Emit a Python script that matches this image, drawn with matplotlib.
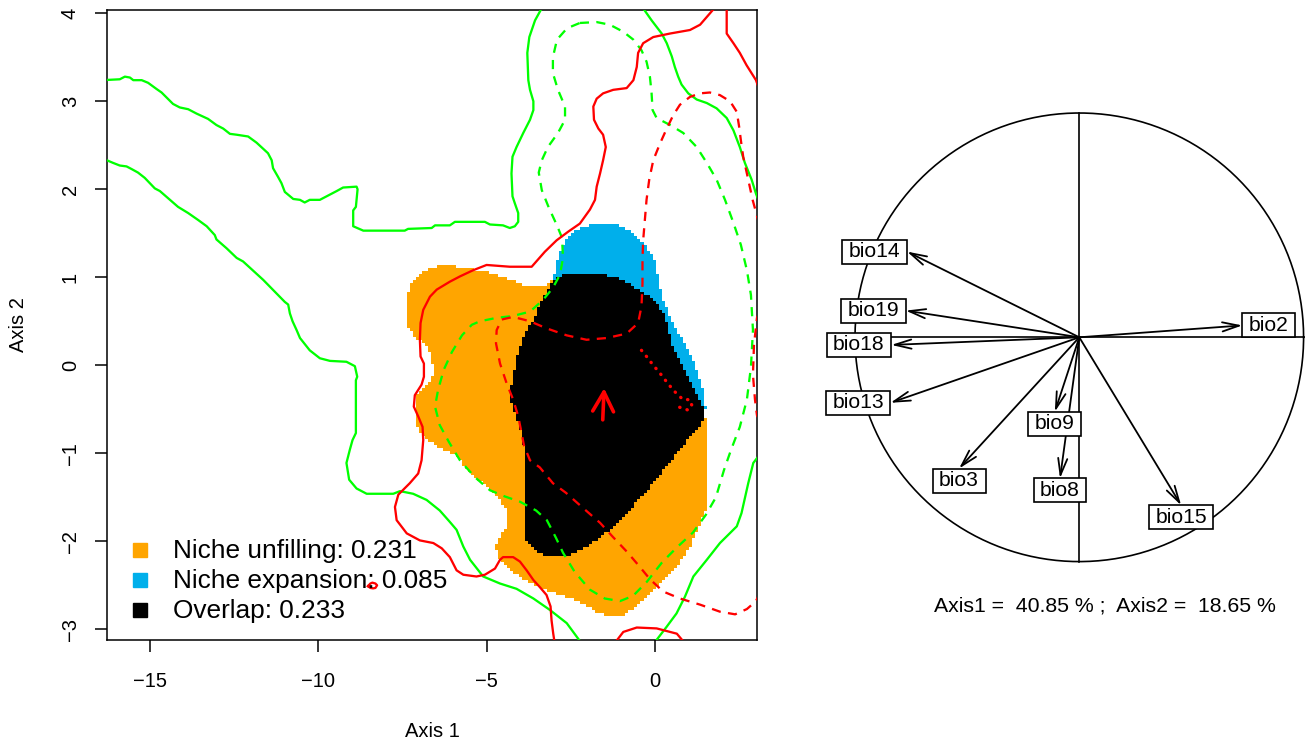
import numpy as np
import matplotlib
matplotlib.use("Agg")
import matplotlib.pyplot as plt
from matplotlib.path import Path
from matplotlib.patches import FancyArrowPatch
from matplotlib.colors import ListedColormap

plt.rcParams['font.family'] = ['Liberation Sans', 'DejaVu Sans']
plt.rcParams['axes.unicode_minus'] = True

# ------------------------------------------------------------------ data
# niche-dynamics regions (outlines in PCA space)
native_region = [(-6.68, 1.10), (-6.19, 1.14), (-5.85, 1.11), (-4.90, 1.05), (-4.46, 0.99),
                 (-4.10, 0.94), (-3.68, 0.88), (-3.27, 0.91), (-3.03, 0.97), (-1.63, 0.74),
                 (1.04, -0.39), (1.58, -0.62), (1.58, -1.42), (1.54, -1.61), (1.34, -1.80),
                 (1.04, -2.06), (0.64, -2.29), (0.25, -2.44), (-0.15, -2.59), (-0.54, -2.74),
                 (-0.94, -2.84), (-1.30, -2.84), (-1.63, -2.82), (-2.03, -2.72), (-2.62, -2.63),
                 (-3.22, -2.55), (-3.81, -2.44), (-4.31, -2.33), (-4.60, -2.21), (-4.75, -2.06),
                 (-4.60, -1.93), (-4.40, -1.83), (-4.40, -1.65), (-4.60, -1.53), (-4.99, -1.38),
                 (-5.49, -1.23), (-5.89, -1.04), (-6.39, -0.93), (-6.78, -0.85), (-7.00, -0.75),
                 (-7.13, -0.62), (-7.13, -0.45), (-7.01, -0.30), (-6.68, -0.19), (-6.56, -0.08),
                 (-6.62, 0.09), (-6.74, 0.21), (-7.10, 0.31), (-7.37, 0.45), (-7.36, 0.69),
                 (-7.30, 0.86), (-7.16, 0.97), (-6.95, 1.05)]
invaded_region = [(-3.02, 0.97), (-2.97, 1.12), (-2.87, 1.27), (-2.72, 1.38), (-2.52, 1.49),
                  (-2.17, 1.57), (-1.84, 1.61), (-1.13, 1.61), (-0.80, 1.55), (-0.53, 1.46),
                  (-0.24, 1.34), (-0.04, 1.23), (0.03, 1.12), (0.09, 0.95), (0.24, 0.74),
                  (0.45, 0.55), (0.59, 0.42), (0.83, 0.28), (1.10, 0.09), (1.34, -0.17),
                  (1.48, -0.36), (1.51, -0.49), (1.48, -0.62), (-0.45, 0.63), (-2.23, 0.91)]
overlap_region = [(-3.02, 0.97), (-2.77, 1.02), (-2.23, 1.04), (-1.63, 1.03), (-1.13, 0.99),
                  (-0.65, 0.90), (-0.30, 0.81), (0.04, 0.71), (0.27, 0.57), (0.39, 0.40),
                  (0.50, 0.23), (0.74, 0.04), (1.04, -0.17), (1.31, -0.37), (1.45, -0.49),
                  (1.48, -0.62), (1.13, -0.77), (0.74, -0.96), (0.39, -1.12), (0.06, -1.28),
                  (-0.36, -1.47), (-0.74, -1.65), (-1.25, -1.84), (-1.63, -1.96), (-2.14, -2.09),
                  (-2.61, -2.17), (-3.12, -2.18), (-3.50, -2.11), (-3.80, -2.00), (-3.89, -1.85),
                  (-3.89, -1.65), (-3.83, -1.36), (-3.83, -1.08), (-3.95, -0.79), (-4.10, -0.59),
                  (-4.25, -0.44), (-4.35, -0.36), (-4.26, -0.25), (-4.16, -0.05), (-4.01, 0.21),
                  (-3.81, 0.37), (-3.56, 0.55), (-3.33, 0.74)]

# environment contours (solid: 100% of background, dashed: 50%)
native_bg_upper = [(-16.40, 3.24), (-15.89, 3.25), (-15.74, 3.28), (-15.59, 3.27), (-15.49, 3.24),
                   (-15.24, 3.24), (-15.05, 3.21), (-14.80, 3.14), (-14.65, 3.10), (-14.31, 2.97),
                   (-14.11, 2.93), (-13.86, 2.91), (-13.61, 2.86), (-13.27, 2.80), (-13.02, 2.73),
                   (-12.82, 2.69), (-12.62, 2.63), (-12.42, 2.62), (-12.08, 2.60), (-11.83, 2.53),
                   (-11.49, 2.41), (-11.38, 2.33), (-11.34, 2.24), (-11.19, 2.14), (-11.09, 2.07),
                   (-10.99, 1.97), (-10.74, 1.89), (-10.54, 1.88), (-10.40, 1.85), (-10.25, 1.88),
                   (-9.95, 1.88), (-9.75, 1.92), (-9.45, 1.98), (-9.26, 2.02), (-8.86, 2.03),
                   (-8.83, 2.00), (-8.88, 1.80), (-8.96, 1.76), (-8.96, 1.58), (-8.66, 1.53),
                   (-7.43, 1.53), (-7.33, 1.55), (-6.63, 1.56), (-6.53, 1.59), (-6.09, 1.59),
                   (-5.94, 1.63), (-5.05, 1.63), (-4.90, 1.60), (-4.51, 1.59), (-4.31, 1.56),
                   (-4.16, 1.58), (-4.06, 1.63), (-4.06, 1.73), (-4.16, 1.84), (-4.23, 1.92),
                   (-4.26, 2.18), (-4.23, 2.37), (-4.11, 2.48), (-3.91, 2.64), (-3.71, 2.79),
                   (-3.61, 2.90), (-3.61, 3.00), (-3.71, 3.13), (-3.76, 3.24), (-3.79, 3.55),
                   (-3.73, 3.73), (-3.56, 3.92), (-3.30, 4.10)]
native_bg_lower = [(-16.40, 2.35), (-16.09, 2.30), (-15.89, 2.27), (-15.69, 2.26), (-15.54, 2.23),
                   (-15.35, 2.19), (-15.15, 2.13), (-14.85, 2.01), (-14.70, 1.98), (-14.40, 1.88),
                   (-14.16, 1.80), (-13.86, 1.73), (-13.56, 1.65), (-13.31, 1.58), (-13.07, 1.48),
                   (-13.02, 1.43), (-12.72, 1.33), (-12.42, 1.22), (-12.23, 1.18), (-11.63, 0.97),
                   (-10.99, 0.72), (-10.89, 0.69), (-10.84, 0.59), (-10.76, 0.50), (-10.64, 0.40),
                   (-10.54, 0.31), (-10.25, 0.17), (-9.95, 0.08), (-9.65, 0.05), (-9.16, 0.04),
                   (-8.91, -0.01), (-8.84, -0.13), (-8.88, -0.17), (-8.88, -0.77), (-8.98, -0.85),
                   (-9.06, -0.96), (-9.16, -1.11), (-9.08, -1.30), (-8.86, -1.40), (-8.56, -1.46),
                   (-7.77, -1.46), (-7.57, -1.43), (-7.18, -1.46), (-6.78, -1.53), (-6.39, -1.65),
                   (-6.09, -1.78), (-5.89, -1.87), (-5.69, -2.06), (-5.49, -2.21), (-5.10, -2.40),
                   (-4.60, -2.48), (-4.11, -2.54), (-3.61, -2.65), (-3.12, -2.78), (-2.62, -2.93),
                   (-2.10, -3.20)]
native_bg_right_top = [(-0.43, 4.10), (-0.10, 3.92), (0.20, 3.77), (0.35, 3.66), (0.50, 3.51),
                       (0.59, 3.39), (0.69, 3.28), (0.79, 3.19), (0.99, 3.09), (1.24, 3.02),
                       (1.54, 2.98), (1.83, 2.92), (2.13, 2.81), (2.33, 2.67), (2.52, 2.48),
                       (2.67, 2.30), (2.87, 2.11), (3.00, 1.95), (3.10, 1.85)]
native_bg_right_bottom = [(3.10, -1.02), (2.92, -1.11), (2.77, -1.34), (2.57, -1.68), (2.43, -1.83),
                          (1.93, -2.02), (1.54, -2.21), (1.14, -2.40), (0.89, -2.63), (0.64, -2.82),
                          (0.35, -2.97), (0.05, -3.12), (0.00, -3.20)]
native_bg_50 = [(-2.23, 3.89), (-1.73, 3.90), (-1.34, 3.87), (-0.94, 3.79), (-0.64, 3.70),
                (-0.40, 3.58), (-0.25, 3.45), (-0.15, 3.28), (-0.10, 3.09), (-0.07, 2.90),
                (0.05, 2.81), (0.45, 2.73), (0.84, 2.64), (1.24, 2.48), (1.54, 2.30), (1.83, 2.11),
                (2.08, 1.88), (2.32, 1.63), (2.55, 1.37), (2.73, 1.08), (2.85, 0.80), (2.91, 0.40),
                (2.85, -0.02), (2.73, -0.39), (2.52, -0.70), (2.26, -0.96), (2.05, -1.19),
                (1.81, -1.50), (1.51, -1.70), (1.13, -1.90), (0.65, -2.07), (0.21, -2.24),
                (-0.24, -2.46), (-0.65, -2.62), (-1.04, -2.68), (-1.49, -2.65), (-1.93, -2.55),
                (-2.38, -2.35), (-2.73, -2.13), (-2.94, -1.96), (-3.21, -1.76), (-3.53, -1.65),
                (-4.01, -1.55), (-4.46, -1.49), (-4.90, -1.42), (-5.35, -1.27), (-5.79, -1.08),
                (-6.12, -0.87), (-6.39, -0.68), (-6.53, -0.47), (-6.44, -0.28), (-6.27, -0.05),
                (-6.03, 0.15), (-5.73, 0.34), (-5.44, 0.46), (-5.20, 0.50), (-4.69, 0.54),
                (-4.22, 0.56), (-3.71, 0.61), (-3.33, 0.74), (-3.03, 0.88), (-2.82, 1.03),
                (-2.73, 1.22), (-2.76, 1.45), (-2.91, 1.59), (-3.15, 1.79), (-3.36, 1.99),
                (-3.45, 2.19), (-3.36, 2.33), (-3.18, 2.48), (-2.88, 2.64), (-2.67, 2.79),
                (-2.67, 2.94), (-2.88, 3.13), (-3.03, 3.32), (-3.03, 3.50), (-2.91, 3.70),
                (-2.61, 3.83), (-2.23, 3.89)]
invaded_bg_main = [(1.86, 4.10), (1.34, 3.87), (1.04, 3.81), (0.45, 3.77), (-0.05, 3.73),
                   (-0.35, 3.66), (-0.50, 3.55), (-0.54, 3.39), (-0.64, 3.24), (-0.84, 3.15),
                   (-1.24, 3.13), (-1.54, 3.09), (-1.73, 3.03), (-1.83, 2.94), (-1.81, 2.79),
                   (-1.68, 2.69), (-1.54, 2.62), (-1.46, 2.48), (-1.54, 2.33), (-1.63, 2.18),
                   (-1.73, 2.03), (-1.78, 1.88), (-1.93, 1.77), (-2.23, 1.61), (-2.57, 1.52),
                   (-2.92, 1.42), (-3.27, 1.29), (-3.66, 1.12), (-4.31, 1.12), (-5.00, 1.14),
                   (-5.40, 1.08), (-5.79, 1.01), (-6.09, 0.95), (-6.48, 0.86), (-6.68, 0.78),
                   (-6.88, 0.63), (-6.96, 0.48), (-6.98, 0.29), (-6.96, 0.10), (-6.86, 0.02),
                   (-6.86, -0.13), (-6.93, -0.22), (-7.13, -0.34), (-7.16, -0.47), (-7.03, -0.58),
                   (-6.90, -0.70), (-6.88, -0.85), (-6.93, -1.08), (-7.03, -1.23), (-7.28, -1.34),
                   (-7.62, -1.47), (-7.72, -1.61), (-7.67, -1.76), (-7.37, -1.91), (-6.98, -1.99),
                   (-6.58, -2.02), (-6.33, -2.08), (-6.09, -2.18), (-5.89, -2.33), (-5.69, -2.38),
                   (-5.30, -2.40), (-5.05, -2.38), (-4.75, -2.31), (-4.60, -2.21), (-4.51, -2.18),
                   (-4.21, -2.18), (-4.01, -2.23), (-3.81, -2.33), (-3.61, -2.44), (-3.42, -2.52),
                   (-3.22, -2.61), (-3.10, -2.74), (-3.07, -2.90), (-3.02, -3.05), (-2.96, -3.20)]
invaded_bg_corner = [(2.13, 4.10), (2.13, 3.77), (2.33, 3.66), (2.52, 3.55), (2.72, 3.41),
                     (3.00, 3.24), (3.10, 3.13)]
invaded_bg_bottom = [(-1.28, -3.20), (-0.94, -3.03), (-0.54, -2.98), (0.05, -2.99), (0.65, -3.05),
                     (0.98, -3.20)]
invaded_bg_islet = [(-8.52, -2.51), (-8.45, -2.48), (-8.39, -2.47), (-8.30, -2.48), (-8.25, -2.50),
                    (-8.30, -2.53), (-8.37, -2.535), (-8.45, -2.53), (-8.52, -2.51)]
invaded_bg_50 = [(3.10, 1.60), (2.90, 1.88), (2.77, 2.11), (2.62, 2.37), (2.55, 2.56), (2.50, 2.71),
                 (2.43, 2.88), (2.23, 3.00), (1.93, 3.07), (1.63, 3.10), (1.34, 3.09), (1.04, 3.05),
                 (0.74, 2.96), (0.54, 2.84), (0.35, 2.69), (0.15, 2.52), (-0.05, 2.33),
                 (-0.17, 2.11), (-0.25, 1.88), (-0.30, 1.65), (-0.35, 1.42), (-0.37, 1.20),
                 (-0.37, 0.93), (-0.40, 0.67), (-0.50, 0.48), (-0.84, 0.36), (-1.43, 0.31),
                 (-2.03, 0.29), (-2.62, 0.34), (-3.22, 0.42), (-3.71, 0.50), (-4.21, 0.55),
                 (-4.55, 0.52), (-4.70, 0.40), (-4.72, 0.25), (-4.60, 0.02), (-4.40, -0.21),
                 (-4.21, -0.39), (-4.06, -0.58), (-3.96, -0.77), (-3.89, -0.91), (-3.71, -1.08),
                 (-3.42, -1.16), (-3.03, -1.34), (-2.64, -1.45), (-2.17, -1.61), (-1.63, -1.79),
                 (-1.25, -1.95), (-0.83, -2.12), (-0.45, -2.29), (-0.15, -2.43), (0.24, -2.57),
                 (0.74, -2.65), (1.34, -2.72), (1.93, -2.80), (2.38, -2.83), (2.73, -2.77),
                 (3.00, -2.68), (3.10, -2.60)]
invaded_bg_50_edge = [(3.10, 0.60), (3.03, 0.54), (2.94, 0.23), (2.91, -0.11), (2.97, -0.39),
                      (3.03, -0.57), (3.10, -0.62)]
centroid_path = [(-0.40, 0.17), (-0.25, 0.10), (-0.05, 0.00), (0.15, -0.09), (0.35, -0.19),
                 (0.54, -0.28), (0.69, -0.34), (0.84, -0.39), (1.04, -0.39), (1.09, -0.45),
                 (0.99, -0.51), (0.84, -0.49), (0.59, -0.46)]
centroid_shift_start = (-1.55, -0.62)
centroid_shift_end = (-1.51, -0.26)

legend_labels = ["Niche unfilling: 0.231", "Niche expansion: 0.085", "Overlap: 0.233"]
region_colors = ["#FFA500", "#00AFEB", "#000000"]

x_ticks = [-15, -10, -5, 0]
y_ticks = [-3, -2, -1, 0, 1, 2, 3, 4]

# correlation circle
var_names = ["bio2", "bio3", "bio8", "bio9", "bio13", "bio14", "bio15", "bio18", "bio19"]
load_axis1 = [0.727, -0.536, -0.086, -0.109, -0.842, -0.768, 0.454, -0.838, -0.774]
load_axis2 = [0.053, -0.585, -0.629, -0.332, -0.292, 0.382, -0.749, -0.034, 0.119]
inertia_axis1 = 40.85
inertia_axis2 = 18.65

# ------------------------------------------------------------------ figure
W, H = 1311, 742
fig = plt.figure(figsize=(W / 100, H / 100), dpi=100)
ax = fig.add_axes([107 / W, (H - 639.5) / H, 650 / W, 630 / H])
ax.set_xlim(-16.27, 3.03)
ax.set_ylim(-3.116, 4.043)

# raster of niche categories
xe = np.arange(-16.27, 3.2, 0.09)
ye = np.arange(-3.116, 4.1, 0.034)
xc = (xe[:-1] + xe[1:]) / 2
yc = (ye[:-1] + ye[1:]) / 2
XX, YY = np.meshgrid(xc, yc)
pts = np.column_stack([XX.ravel(), YY.ravel()])


def inside(poly):
    return Path(np.array(poly)).contains_points(pts).reshape(XX.shape)


cat = np.zeros(XX.shape)
cat[inside(native_region)] = 1
cat[inside(invaded_region)] = 2
cat[inside(overlap_region)] = 3
ax.pcolormesh(xe, ye, np.ma.masked_equal(cat, 0), cmap=ListedColormap(region_colors),
              vmin=0.5, vmax=3.5, shading='flat', antialiased=False, edgecolors='none', zorder=1)

GREEN = '#00FF00'
RED = '#FF0000'
LW = 1.65
dash = (0, (4.0, 3.2))


def draw(curve, color, ls='-', lw=LW, **kw):
    arr = np.array(curve)
    ax.plot(arr[:, 0], arr[:, 1], color=color, lw=lw, linestyle=ls, zorder=3, **kw)


for c in [native_bg_upper, native_bg_lower, native_bg_right_top, native_bg_right_bottom]:
    draw(c, GREEN)
draw(native_bg_50, GREEN, dash)
for c in [invaded_bg_main, invaded_bg_corner, invaded_bg_bottom, invaded_bg_islet]:
    draw(c, RED)
draw(invaded_bg_50, RED, dash)
draw(invaded_bg_50_edge, RED, dash)
draw(centroid_path, RED, (0, (0.1, 2.2)), lw=2.4, dash_capstyle='round')

ax.add_patch(FancyArrowPatch(centroid_shift_start, centroid_shift_end,
                             arrowstyle='->,head_length=14,head_width=7.5', mutation_scale=1,
                             color=RED, lw=2.6, shrinkA=0, shrinkB=0, zorder=4))

ax.set_xticks(x_ticks)
ax.set_yticks(y_ticks)
for sp in ax.spines.values():
    sp.set_linewidth(1.1)
ax.tick_params(direction='out', length=8.6, width=1.1, labelsize=14.5)
ax.tick_params(axis='x', pad=15)
ax.tick_params(axis='y', pad=11)
for lbl in ax.get_yticklabels():
    lbl.set_rotation(90)
    lbl.set_va('center')

fig.text(432 / W, 1 - 737 / H, "Axis 1", ha='center', va='baseline', fontsize=14.5)
fig.text(19 / W, 1 - 324.5 / H, "Axis 2", ha='center', va='center', rotation=90, fontsize=14.5)

# legend
for i, (lab, col) in enumerate(zip(legend_labels, region_colors)):
    row = 550 + 30 * i
    ax.plot([(140 - 107) / 650], [(639.5 - row) / 630], marker='s', ms=10, color=col,
            linestyle='none', transform=ax.transAxes, zorder=6, clip_on=False)
    ax.text((172.7 - 107) / 650, (639.5 - row - 8.3) / 630, lab, transform=ax.transAxes,
            ha='left', va='baseline', fontsize=18.9, zorder=6)

# ------------------------------------------------------------------ correlation circle
cx, cy, R = 1079.3, 337.3, 224.3
ax2 = fig.add_axes([800 / W, (H - 640) / H, 511 / W, 560 / H])
ax2.set_xlim((800 - cx) / R, (1311 - cx) / R)
ax2.set_ylim((cy - 640) / R, (cy - 80) / R)
ax2.axis('off')
t = np.linspace(0, 2 * np.pi, 500)
ax2.plot(np.cos(t), np.sin(t), color='black', lw=1.2, zorder=1, clip_on=False)
ax2.plot([-1, 1], [0, 0], color='black', lw=1.2, zorder=1)
ax2.plot([0, 0], [-1, 1], color='black', lw=1.2, zorder=1)


def label_box(x0, y0, width, height, mutation_size):
    px = 0.31 * mutation_size
    py = 0.12 * mutation_size
    x0 -= px
    y0 -= py
    x1 = x0 + width + 2 * px
    y1 = y0 + height + 2 * py
    return Path([(x0, y0), (x1, y0), (x1, y1), (x0, y1), (x0, y0)], closed=True)


fs_lab = 15.2
hpad = 0.31 * fs_lab
vpad = 0.12 * fs_lab
for name, lx, ly in zip(var_names, load_axis1, load_axis2):
    ax2.add_patch(FancyArrowPatch((0, 0), (lx, ly),
                                  arrowstyle='->,head_length=12,head_width=3.3', mutation_scale=1,
                                  color='black', lw=1.3, shrinkA=0, shrinkB=0, zorder=3))
    if abs(lx) >= abs(ly):
        ha, va = ('right', 'center') if lx < 0 else ('left', 'center')
        off = (-hpad if lx < 0 else hpad, 0)
    else:
        ha, va = ('center', 'top') if ly < 0 else ('center', 'bottom')
        off = (0, -vpad if ly < 0 else vpad)
    ax2.annotate(name, (lx, ly), xytext=off, textcoords='offset points', ha=ha, va=va,
                 fontsize=fs_lab, zorder=5, annotation_clip=False,
                 bbox=dict(boxstyle=label_box, fc='white', ec='black', lw=1.2))

fig.text(1105 / W, 1 - 611.7 / H,
         f"Axis1 =  {inertia_axis1:.2f} % ;  Axis2 =  {inertia_axis2:.2f} %",
         ha='center', va='baseline', fontsize=15.3)

fig.savefig("out.png", dpi=100)
